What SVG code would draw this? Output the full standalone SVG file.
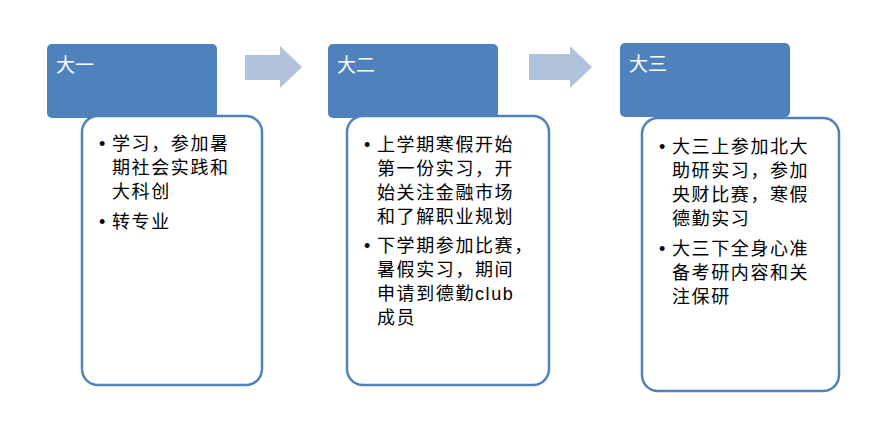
<svg xmlns="http://www.w3.org/2000/svg" width="880" height="428" viewBox="0 0 880 428">
<style>
.hdr{fill:#4F81BD;}
.body{fill:#FFFFFF;stroke:#4F81BD;stroke-width:2.5;}
.arrow{fill:#B1C2DD;}
.ht{font-family:"Liberation Sans","Noto Sans CJK SC",sans-serif;font-size:19px;fill:#FFFFFF;}
.bt{font-family:"Liberation Sans","Noto Sans CJK SC",sans-serif;font-size:18px;fill:#000000;letter-spacing:1.6px;}
</style>
<rect width="880" height="428" fill="#FFFFFF"/>
<g id="connectors">
<polygon class="arrow" points="245,55 280,55 280,46 302,67 280,88 280,80 245,80"/>
<polygon class="arrow" points="529,54 570,54 570,46 592,67 570,88 570,80 529,80"/>
</g>
<g id="node1">
<rect class="hdr" x="47" y="44" width="170" height="74" rx="5"/>
<text class="ht" x="56" y="72">大一</text>
<rect class="body" x="82" y="116" width="180" height="269" rx="16"/>
<text class="bt"><tspan x="99" y="150">•</tspan><tspan x="112" y="150">学习，参加暑</tspan><tspan x="112" y="174">期社会实践和</tspan><tspan x="112" y="198">大科创</tspan><tspan x="99" y="228">•</tspan><tspan x="112" y="228">转专业</tspan></text>
</g>
<g id="node2">
<rect class="hdr" x="328" y="44" width="170" height="74" rx="5"/>
<text class="ht" x="337" y="72">大二</text>
<rect class="body" x="347" y="116" width="202" height="269" rx="16"/>
<text class="bt"><tspan x="364" y="151">•</tspan><tspan x="377" y="151">上学期寒假开始</tspan><tspan x="377" y="175">第一份实习，开</tspan><tspan x="377" y="199">始关注金融市场</tspan><tspan x="377" y="223">和了解职业规划</tspan><tspan x="364" y="252">•</tspan><tspan x="377" y="252">下学期参加比赛，</tspan><tspan x="377" y="276">暑假实习，期间</tspan><tspan x="377" y="300">申请到德勤club</tspan><tspan x="377" y="324">成员</tspan></text>
</g>
<g id="node3">
<rect class="hdr" x="620" y="43" width="170" height="74" rx="5"/>
<text class="ht" x="629" y="71">大三</text>
<rect class="body" x="642" y="118" width="197" height="273" rx="16"/>
<text class="bt"><tspan x="659" y="153">•</tspan><tspan x="672" y="153">大三上参加北大</tspan><tspan x="672" y="177">助研实习，参加</tspan><tspan x="672" y="201">央财比赛，寒假</tspan><tspan x="672" y="225">德勤实习</tspan><tspan x="659" y="255">•</tspan><tspan x="672" y="255">大三下全身心准</tspan><tspan x="672" y="279">备考研内容和关</tspan><tspan x="672" y="303">注保研</tspan></text>
</g>
</svg>
